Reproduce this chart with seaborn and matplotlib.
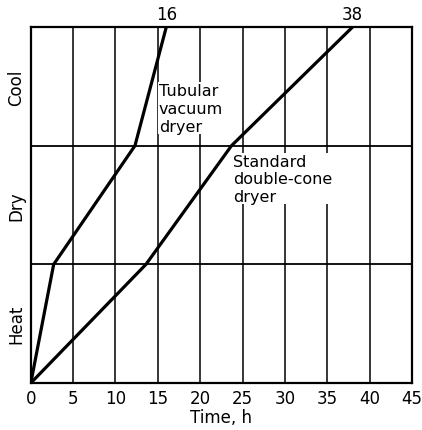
import pandas as pd
import matplotlib
matplotlib.use("Agg")
import matplotlib.pyplot as plt
import seaborn as sns

# time (h) at which each stage ends: start, heat, dry, cool
stage_level = [0, 1, 2, 3]
tubular_time = [0, 2.7, 12.3, 16]
standard_time = [0, 13.6, 23.7, 38]
stage_names = ["Heat", "Dry", "Cool"]
x_ticks = [0, 5, 10, 15, 20, 25, 30, 35, 40, 45]

df = pd.concat([
    pd.DataFrame({"time": tubular_time, "stage": stage_level, "dryer": "Tubular vacuum dryer"}),
    pd.DataFrame({"time": standard_time, "stage": stage_level, "dryer": "Standard double-cone dryer"}),
], ignore_index=True)

sns.set_theme(style="white")
plt.rcParams["font.family"] = ["DejaVu Sans"]
plt.rcParams["text.color"] = "black"
plt.rcParams["xtick.color"] = "black"
plt.rcParams["ytick.color"] = "black"
plt.rcParams["axes.labelcolor"] = "black"

fig = plt.figure(figsize=(4.22, 4.31), dpi=100)
ax = fig.add_axes([0.073, 0.109, 0.903, 0.826])

sns.lineplot(data=df, x="time", y="stage", hue="dryer", units="dryer", estimator=None,
             sort=False, palette=["black", "black"], linewidth=2.3, legend=False, ax=ax,
             zorder=3)

ax.set_xlim(0, 45)
ax.set_ylim(0, 3)
ax.set_xticks(x_ticks)
ax.set_xticklabels([str(t) for t in x_ticks], fontsize=12)
for t in x_ticks[1:-1]:
    ax.axvline(t, color="black", lw=1.1, zorder=0)
for s in stage_level[1:-1]:
    ax.axhline(s, color="black", lw=1.3, zorder=0)

ax.set_yticks([0.5, 1.5, 2.5])
ax.set_yticklabels(stage_names, rotation=90, va="center", fontsize=12)
ax.tick_params(axis="both", length=0, pad=4)
ax.set_xlabel("Time, h", fontsize=12, labelpad=1)
ax.set_ylabel("")

for sp in ax.spines.values():
    sp.set_color("black")
    sp.set_linewidth(1.6)

ax.text(tubular_time[-1], 3.03, "16", ha="center", va="bottom", fontsize=12)
ax.text(standard_time[-1], 3.03, "38", ha="center", va="bottom", fontsize=12)
ax.text(15.1, 2.1, "Tubular\nvacuum\ndryer", ha="left", va="bottom", fontsize=11.5,
        linespacing=1.25, zorder=1,
        bbox=dict(facecolor="white", edgecolor="none", pad=0.5))
ax.text(23.9, 1.93, "Standard\ndouble-cone\ndryer", ha="left", va="top", fontsize=11.5,
        linespacing=1.2, zorder=1,
        bbox=dict(facecolor="white", edgecolor="none", pad=0.5))

fig.savefig("out.png", dpi=100)
